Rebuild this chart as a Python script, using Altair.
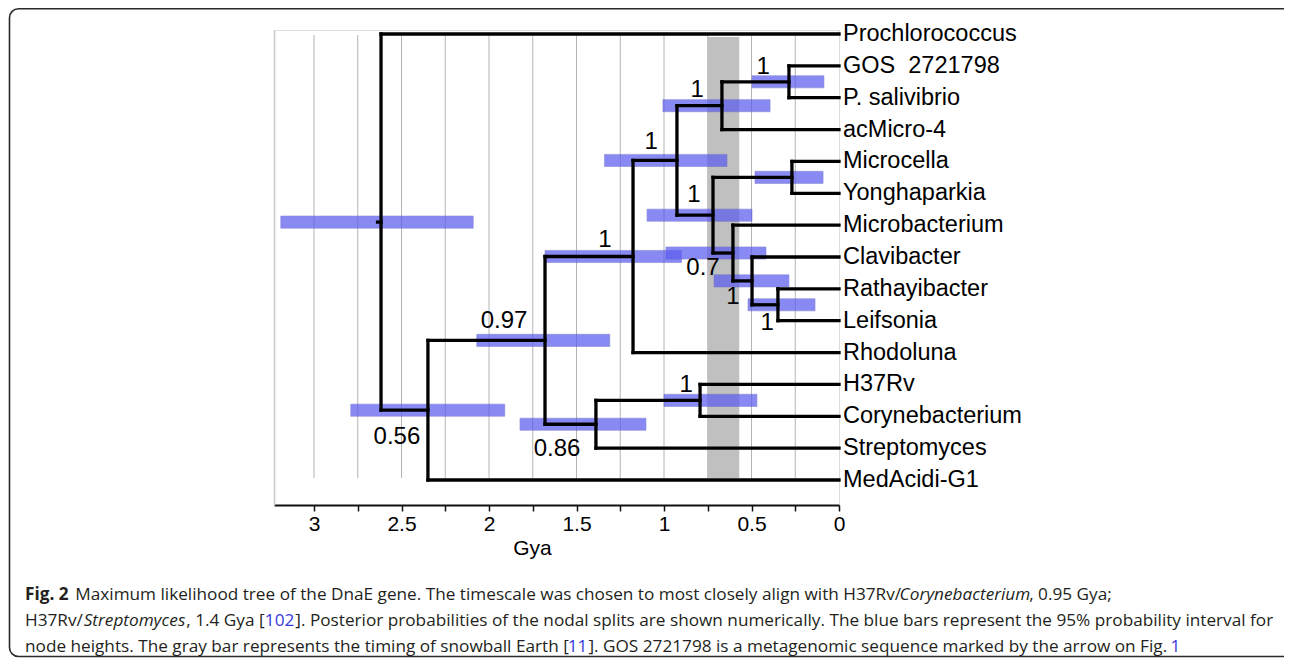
import altair as alt
import pandas as pd

# ---------------- data ----------------
leaves = ["Prochlorococcus", "GOS\u00a0 2721798", "P. salivibrio", "acMicro-4", "Microcella",
          "Yonghaparkia", "Microbacterium", "Clavibacter", "Rathayibacter", "Leifsonia",
          "Rhodoluna", "H37Rv", "Corynebacterium", "Streptomyces", "MedAcidi-G1"]

node_names = ["root", "nA", "nB", "nC", "nD", "nE", "nF", "nG", "nH", "nI", "nJ", "nK", "nL", "nM"]
node_children = [
    ["Prochlorococcus", "nA"],
    ["nB", "MedAcidi-G1"],
    ["nC", "nD"],
    ["nE", "Rhodoluna"],
    ["nM", "Streptomyces"],
    ["nF", "nG"],
    ["nH", "acMicro-4"],
    ["nI", "nJ"],
    ["GOS\u00a0 2721798", "P. salivibrio"],
    ["Microcella", "Yonghaparkia"],
    ["Microbacterium", "nK"],
    ["Clavibacter", "nL"],
    ["Rathayibacter", "Leifsonia"],
    ["H37Rv", "Corynebacterium"],
]
node_age = [2.617, 2.349, 1.680, 1.177, 1.389, 0.926, 0.669, 0.720, 0.286, 0.269, 0.606, 0.497, 0.349, 0.794]
hpd_low = [2.09, 1.91, 1.31, 0.90, 1.103, 0.64, 0.394, 0.497, 0.086, 0.091, 0.417, 0.286, 0.137, 0.469]
hpd_high = [3.19, 2.79, 2.07, 1.68, 1.823, 1.34, 1.006, 1.097, 0.497, 0.48, 0.989, 0.714, 0.52, 1.0]
node_support = ["", "0.56", "0.97", "1", "0.86", "1", "1", "1", "1", "", "0.7", "1", "1", "1"]
label_age = [0, 2.526, 1.914, 1.337, 1.611, 1.074, 0.811, 0.829, 0.434, 0, 0.777, 0.606, 0.411, 0.874]
label_row = [0, 12.65, 9.0, 6.47, 13.03, 3.39, 1.76, 5.05, 1.04, 0, 7.35, 8.26, 9.07, 11.02]

grid_gya = [0.25, 0.5, 0.75, 1.0, 1.25, 1.5, 1.75, 2.0, 2.25, 2.5, 2.75, 3.0]
tick_gya = [0.0, 0.25, 0.5, 0.75, 1.0, 1.25, 1.5, 1.75, 2.0, 2.25, 2.5, 2.75, 3.0]
snowball_gya = [0.75, 0.57]

caption_1 = ["Fig. 2", "Maximum likelihood tree of the DnaE gene. The timescale was chosen to most closely align with H37Rv/",
             "Corynebacterium", ", 0.95 Gya;"]
caption_2 = ["H37Rv/", "Streptomyces", ", 1.4 Gya [", "102",
             "]. Posterior probabilities of the nodal splits are shown numerically. The blue bars represent the 95% probability interval for"]
caption_3 = ["node heights. The gray bar represents the timing of snowball Earth [", "11",
             "]. GOS 2721798 is a metagenomic sequence marked by the arrow on Fig.", "1"]

# ---------------- tree layout ----------------
age = {n: 0.0 for n in leaves}
age.update(dict(zip(node_names, node_age)))
children = dict(zip(node_names, node_children))
row = {n: float(i) for i, n in enumerate(leaves)}


def get_row(n):
    if n not in row:
        ks = children[n]
        row[n] = sum(get_row(k) for k in ks) / len(ks)
    return row[n]


for n in node_names:
    get_row(n)

segs = []
for n in node_names:
    ks = children[n]
    segs.append(dict(t1=age[n], t2=age[n], r1=row[ks[0]], r2=row[ks[-1]]))
    for k in ks:
        segs.append(dict(t1=age[n], t2=age[k], r1=row[k], r2=row[k]))
segs.append(dict(t1=age["root"] + 0.02, t2=age["root"], r1=row["root"], r2=row["root"]))
seg_df = pd.DataFrame(segs)

bar_df = pd.DataFrame({
    "lo": hpd_low, "hi": hpd_high,
    "r": [row[n] for n in node_names],
})
bar_df["r1"] = bar_df["r"] - 0.19
bar_df["r2"] = bar_df["r"] + 0.19

lab_df = pd.DataFrame({"t": label_age, "r": label_row, "s": node_support})
lab_df = lab_df[lab_df["s"] != ""]

leaf_df = pd.DataFrame({"name": leaves, "t": [0.0] * len(leaves), "r": [row[n] for n in leaves]})
grid_df = pd.DataFrame({"g": grid_gya})
snow_df = pd.DataFrame({"a": [snowball_gya[0]], "b": [snowball_gya[1]]})

# ---------------- scales / axes ----------------
W, H = 565, 475
xs = alt.Scale(domain=[0, 3.2286], reverse=True, nice=False, zero=False)
ys = alt.Scale(domain=[-0.1256, 14.785], reverse=True, nice=False, zero=False)
xaxis = alt.Axis(values=tick_gya,
                 labelExpr="datum.value % 0.5 == 0 ? format(datum.value, '~g') : ''",
                 grid=False, domainColor="#111111", domainWidth=2, tickColor="#111111",
                 tickWidth=1.5, tickSize=6, labelFontSize=21, labelFont="Liberation Sans",
                 labelColor="black", labelPadding=2, labelOverlap=False, labelFlush=False,
                 title="Gya", titleFontSize=21, titleFont="Liberation Sans",
                 titleFontWeight="normal", titleColor="black", titlePadding=3, titleX=258)
yaxis = alt.Axis(domain=True, domainColor="#c8c8c8", domainWidth=1.5, ticks=False,
                 labels=False, title=None, grid=False)


def X(f):
    return alt.X(f, type="quantitative", scale=xs, axis=xaxis)


def Y(f):
    return alt.Y(f, type="quantitative", scale=ys, axis=yaxis)


grid = alt.Chart(grid_df).mark_rule(color="#b4b4b4", strokeWidth=1).encode(
    x=X("g"), y=alt.value(5), y2=alt.value(448))

snow = alt.Chart(snow_df).mark_rect(color="#c0c0c0").encode(
    x=X("a"), x2="b", y=alt.value(7), y2=alt.value(448))

bars = alt.Chart(bar_df).mark_rect(color="#5c5cf0", opacity=0.72, stroke="#5a5ac8", strokeWidth=0.6).encode(
    x=X("hi"), x2="lo", y=Y("r1"), y2="r2")

branches = alt.Chart(seg_df).mark_rule(color="black", strokeWidth=3.3, strokeCap="square").encode(
    x=X("t1"), x2="t2", y=Y("r1"), y2="r2")

support = alt.Chart(lab_df).mark_text(font="Liberation Sans", fontSize=24, color="black",
                                      align="center", baseline="middle").encode(
    x=X("t"), y=Y("r"), text="s")

leaf_text = alt.Chart(leaf_df).mark_text(font="Liberation Sans", fontSize=23.5, color="black",
                                         align="left", baseline="middle", dx=4).encode(
    x=X("t"), y=Y("r"), text="name")

TOTAL_H = 650
one = pd.DataFrame({"k": [0]})
border = alt.Chart(one).mark_rect(filled=False, stroke="#2a2a2a", strokeWidth=1.6, cornerRadius=9).encode(
    x=alt.value(-264.5), x2=alt.value(1030), y=alt.value(-21.2), y2=alt.value(626.5))

# ---------------- caption (flowed with approximate Open Sans advance widths) ----------------
OS_W = {" ": 532, "%": 1706, "(": 606, ")": 606, ",": 502, "-": 659, ".": 545, "/": 735, ":": 545,
        ";": 545, "[": 627, "]": 627,
        "A": 1296, "B": 1327, "C": 1292, "D": 1493, "E": 1139, "F": 1057, "G": 1491, "H": 1511,
        "I": 571, "J": 547, "K": 1257, "L": 1073, "M": 1849, "N": 1571, "O": 1599, "P": 1240,
        "Q": 1599, "R": 1290, "S": 1124, "T": 1139, "U": 1491, "V": 1219, "W": 1899, "X": 1199,
        "Y": 1161, "Z": 1159,
        "a": 1139, "b": 1255, "c": 975, "d": 1255, "e": 1149, "f": 694, "g": 1122, "h": 1257,
        "i": 518, "j": 518, "k": 1075, "l": 518, "m": 1905, "n": 1257, "o": 1237, "p": 1255,
        "q": 1255, "r": 836, "s": 977, "t": 723, "u": 1257, "v": 1026, "w": 1593, "x": 1073,
        "y": 1028, "z": 977}
CAP_SIZE = 17.2
STYLE_FACTOR = {"reg": 0.995, "bold": 1.08, "ital": 0.925, "link": 1.0}


def text_width(s, style):
    units = sum(OS_W.get(ch, 1171) for ch in s)
    return units / 2048.0 * CAP_SIZE * STYLE_FACTOR[style]


cap_font = "Open Sans"
cap_color = "#231f20"
link_color = "#3a3adc"
cap_lines = [
    [(caption_1[0], "bold", 0), (caption_1[1], "reg", 1), (caption_1[2], "ital", 0), (caption_1[3], "reg", 0)],
    [(caption_2[0], "reg", 0), (caption_2[1], "ital", 0), (caption_2[2], "reg", 0), (caption_2[3], "link", 0),
     (caption_2[4], "reg", 0)],
    [(caption_3[0], "reg", 0), (caption_3[1], "link", 0), (caption_3[2], "reg", 0), (caption_3[3], "link", 1)],
]
baselines = [570, 596, 622]
x0 = 25 - 274
cap_layers = []
for ln, segments in enumerate(cap_lines):
    x = x0
    for txt, st, space_before in segments:
        x += space_before * text_width(" ", "reg")
        kw = dict(font=cap_font, fontSize=CAP_SIZE, align="left", baseline="alphabetic", color=cap_color)
        if st == "bold":
            kw["fontWeight"] = "bold"
        if st == "ital":
            kw["fontStyle"] = "italic"
        if st == "link":
            kw["color"] = link_color
        cap_layers.append(alt.Chart(one).mark_text(**kw).encode(
            x=alt.value(round(x, 1)), y=alt.value(baselines[ln]), text=alt.value(txt)))
        x += text_width(txt, st) + 1.0

chart = alt.layer(grid, snow, bars, branches, support, leaf_text, border, *cap_layers).properties(
    width=W, height=H,
    autosize=alt.AutoSizeParams(type="none"),
    padding={"left": 266, "top": 22, "right": 445, "bottom": TOTAL_H - 22 - H},
).configure_view(stroke="transparent").configure(background="white")

chart.save("out.html", embed_options={"renderer": "svg", "actions": False})
